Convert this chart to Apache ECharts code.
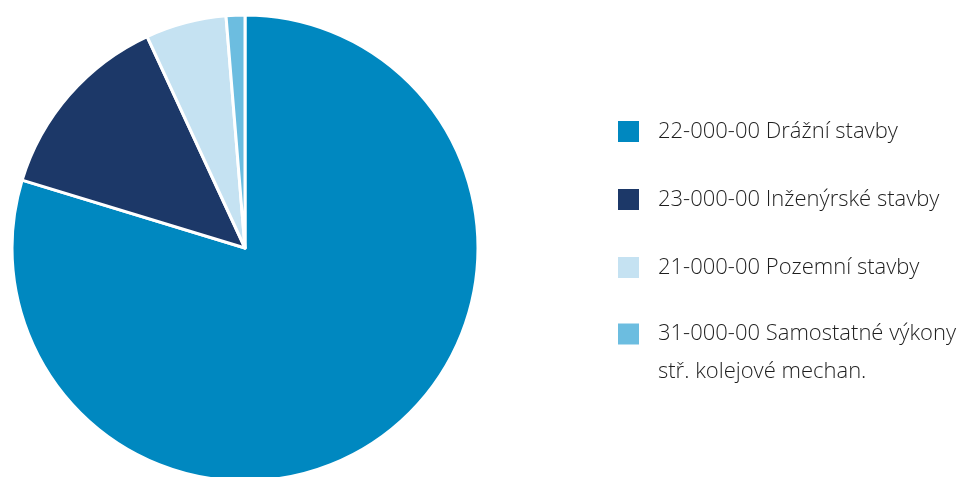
<!DOCTYPE html>
<html>
<head>
<meta charset="utf-8">
<script src="https://cdn.jsdelivr.net/npm/echarts@6/dist/echarts.min.js"></script>
<style>
  html, body { margin: 0; padding: 0; background: #fff; }
  #chart { width: 968px; height: 477px; }
</style>
</head>
<body>
<div id="chart"></div>
<script>
// podíly kategorií (%)
const categories = [
  '22-000-00 Drážní stavby',
  '23-000-00 Inženýrské stavby',
  '21-000-00 Pozemní stavby',
  '31-000-00 Samostatné výkony\nstř. kolejové mechan.'
]
const shares = [79.7, 13.4, 5.6, 1.3]
const colors = ['#0088c0', '#1c3868', '#c5e2f2', '#6cbde0']

const chart = echarts.init(document.getElementById('chart'))

const legendText = {
  fontFamily: 'Open Sans',
  fontWeight: 300,
  fontSize: 22,
  color: '#1e1e1e',
  lineHeight: 23,
  padding: [0, 0, 0, 13]
}

const option = {
  animation: false,
  color: colors,
  legend: [{
    // první tři položky
    orient: 'vertical',
    left: 616,
    top: 119,
    padding: 0,
    icon: 'rect',
    itemWidth: 23,
    itemHeight: 23,
    itemGap: 43,
    selectedMode: false,
    textStyle: legendText,
    data: categories.slice(0, 3)
  }, {
    // poslední položka má dva řádky, čtvereček patří k prvnímu
    orient: 'vertical',
    left: 616,
    top: 277,
    padding: 0,
    icon: 'rect',
    itemWidth: 23,
    itemHeight: 23,
    selectedMode: false,
    textStyle: Object.assign({}, legendText, { lineHeight: 38 }),
    formatter: name => '\n' + name,
    data: categories.slice(3)
  }],
  series: [{
    type: 'pie',
    center: [245, 248],
    radius: 233,
    startAngle: 90,
    clockwise: true,
    label: { show: false },
    labelLine: { show: false },
    itemStyle: { borderColor: '#fff', borderWidth: 3 },
    emphasis: { disabled: true },
    data: categories.map((c, i) => ({ name: c, value: shares[i] }))
  }]
}

chart.setOption(option)
</script>
</body>
</html>
